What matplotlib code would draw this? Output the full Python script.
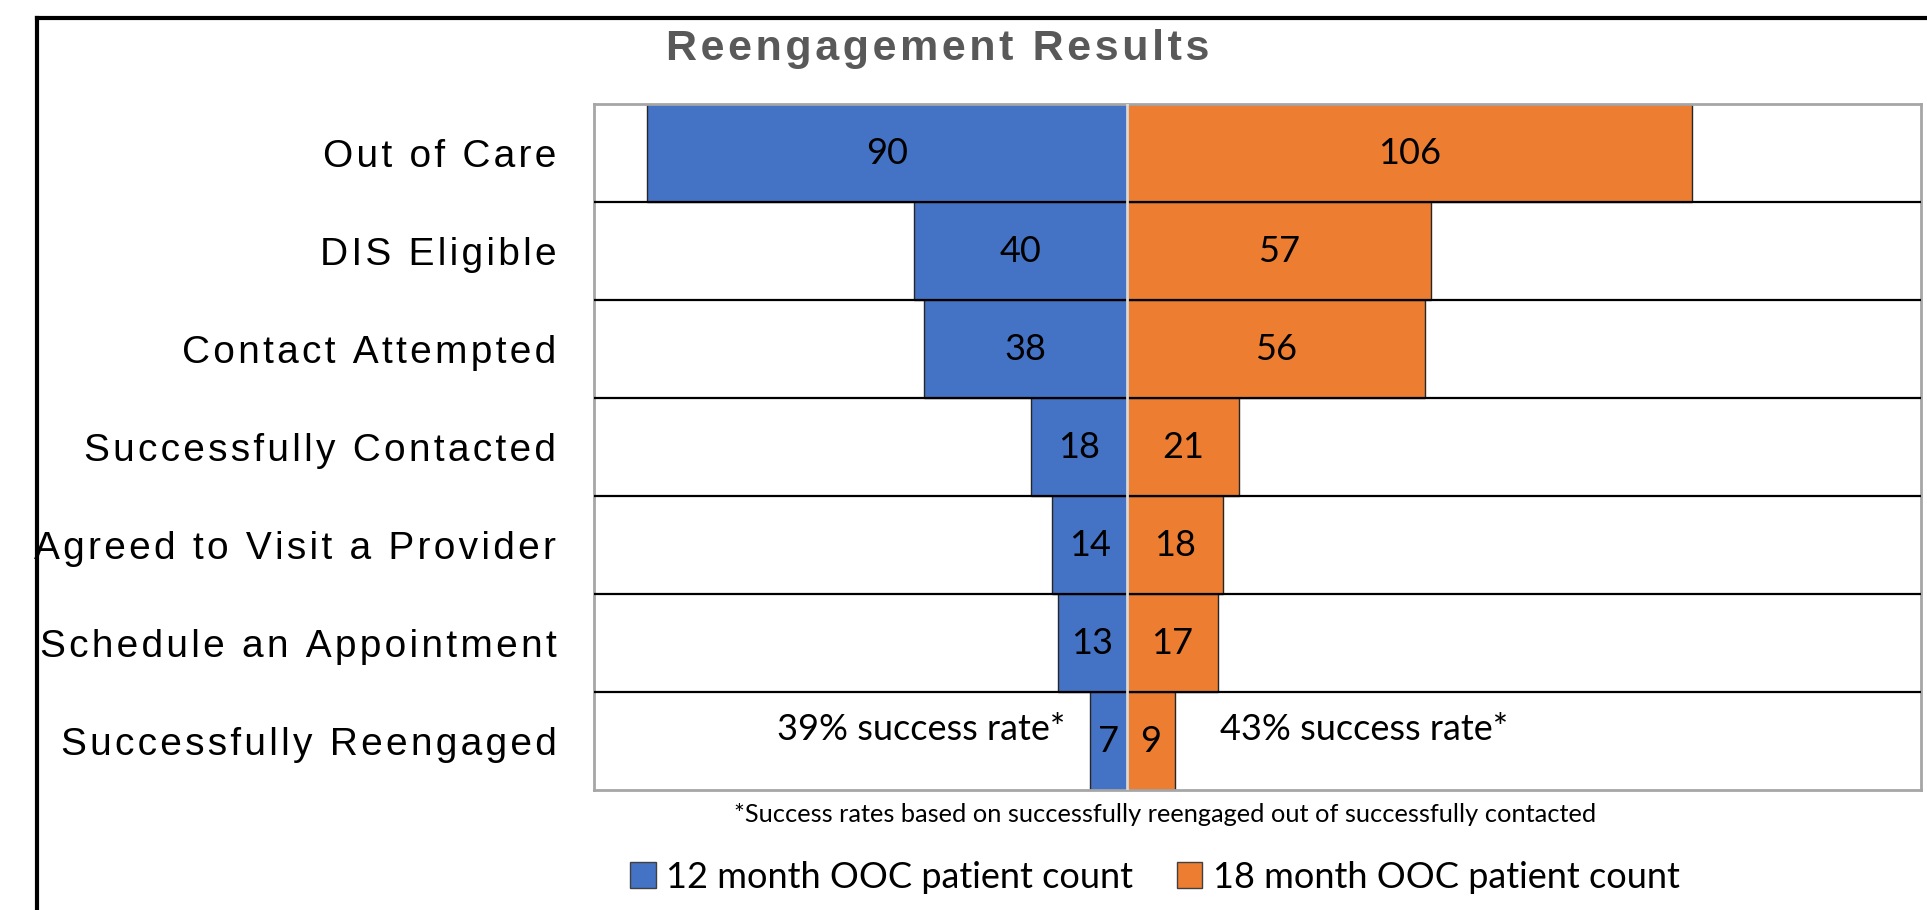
import numpy as np
import matplotlib
matplotlib.use("Agg")
import matplotlib.pyplot as plt
from matplotlib.lines import Line2D
from matplotlib.patches import Patch

stages = ["Out of Care", "DIS Eligible", "Contact Attempted", "Successfully Contacted",
          "Agreed to Visit a Provider", "Schedule an Appointment", "Successfully Reengaged"]
count_12 = [90, 40, 38, 18, 14, 13, 7]
count_18 = [106, 57, 56, 21, 18, 17, 9]
series_names = ["12 month OOC patient count", "18 month OOC patient count"]
rate_labels = ["39% success rate*", "43% success rate*"]
footnote = "*Success rates based on successfully reengaged out of successfully contacted"

BLUE = "#4472C4"
ORANGE = "#ED7D31"
W, H = 1927, 910
ARIAL = ["Liberation Sans", "DejaVu Sans"]
CALIBRI = ["Lato", "DejaVu Sans"]


def spaced(s):
    # widen letter spacing the way the original (expanded Arial) text looks
    return "\u200a".join(s)


fig = plt.figure(figsize=(W / 100, H / 100), dpi=100)
ax = fig.add_axes([594 / W, 120 / H, (1921 - 594) / W, (790 - 104) / H])

y = np.arange(len(stages))
c12 = np.array(count_12)
c18 = np.array(count_18)
ax.barh(y, -c12, height=1.0, color=BLUE, edgecolor="#262626", linewidth=1.0, zorder=2)
ax.barh(y, c18, height=1.0, color=ORANGE, edgecolor="#262626", linewidth=1.0, zorder=2)

ax.set_xlim(-100, 149)
ax.set_ylim(len(stages) - 0.5, -0.5)

# row separators and center line
for b in np.arange(0.5, len(stages) - 0.5, 1.0):
    ax.axhline(b, color="black", linewidth=1.6, zorder=3)
ax.axvline(0, color="#d9d9d9", linewidth=2.0, zorder=4)

lab_font = dict(family=CALIBRI, fontsize=26, color="black")
for i in range(len(stages)):
    ax.text(-c12[i] / 2, y[i], str(c12[i]), ha="center", va="center", zorder=5, **lab_font)
    ax.text(c18[i] / 2, y[i], str(c18[i]), ha="center", va="center", zorder=5, **lab_font)

last = len(stages) - 1
ax.text(-11.5, last - 0.12, rate_labels[0], ha="right", va="center", **lab_font)
ax.text(17.5, last - 0.12, rate_labels[1], ha="left", va="center", **lab_font)

ax.set_yticks(y)
ax.set_yticklabels([spaced(s) for s in stages], fontsize=28, family=ARIAL)
ax.tick_params(axis="y", length=0, pad=27)
ax.set_xticks([])
for s in ax.spines.values():
    s.set_color("#a6a6a6")
    s.set_linewidth(2.0)

fig.text(938 / W, 1 - 49 / H, spaced("Reengagement Results"), ha="center", va="center",
         fontsize=31, fontweight="bold", color="#595959", family=ARIAL)
fig.text(1165 / W, 1 - 815 / H, footnote, ha="center", va="center",
         fontsize=18.3, family=CALIBRI)

handles = [Patch(facecolor=BLUE, edgecolor="#404040", linewidth=1),
           Patch(facecolor=ORANGE, edgecolor="#404040", linewidth=1)]
fig.legend(handles, series_names, loc="center", bbox_to_anchor=(1155 / W, 1 - 877 / H),
           ncol=2, frameon=False, prop={"family": CALIBRI, "size": 26},
           handlelength=0.7, handleheight=0.7, handletextpad=0.3, columnspacing=1.2)

# outer chart frame
fig.add_artist(Line2D([37 / W, 37 / W], [0, 1 - 18 / H], color="black", linewidth=3,
                      transform=fig.transFigure))
fig.add_artist(Line2D([37 / W, 1], [1 - 18 / H, 1 - 18 / H], color="black", linewidth=3,
                      transform=fig.transFigure))

fig.savefig("out.png", dpi=100)
